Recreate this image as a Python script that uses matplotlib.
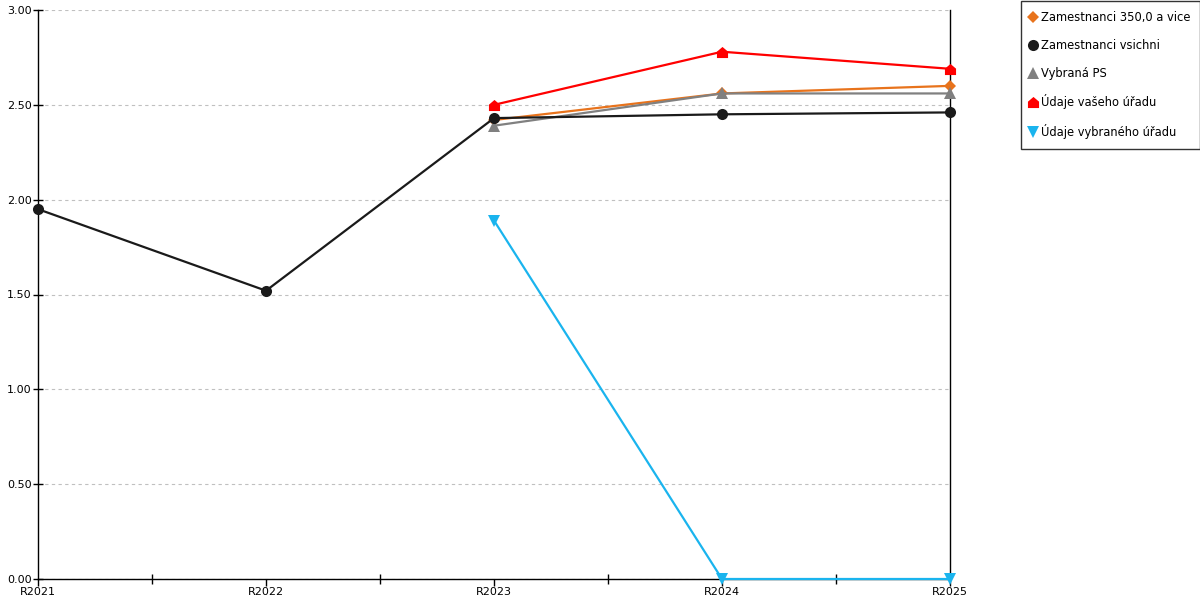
import numpy as np
import matplotlib
matplotlib.use('Agg')
import matplotlib.pyplot as plt
from matplotlib.path import Path

years = ['R2021', 'R2022', 'R2023', 'R2024', 'R2025']

zam_350 = [None, None, 2.42, 2.56, 2.60]
zam_all = [1.95, 1.52, 2.43, 2.45, 2.46]
vybrana_ps = [None, None, 2.39, 2.56, 2.56]
vas_urad = [None, None, 2.50, 2.78, 2.69]
vybrany_urad = [None, None, 1.89, 0.0, 0.0]

y_ticks = [0.0, 0.5, 1.0, 1.5, 2.0, 2.5, 3.0]

# red marker looks like a little house
house = Path([(-1, -1), (1, -1), (1, 0.15), (0, 1), (-1, 0.15), (-1, -1)],
             [Path.MOVETO, Path.LINETO, Path.LINETO, Path.LINETO, Path.LINETO, Path.CLOSEPOLY])

plt.rcParams['font.family'] = ['DejaVu Sans']

fig = plt.figure(figsize=(12, 6), dpi=100)
ax = fig.add_axes([38/1200, 21/600, 912/1200, 569/600])

x = np.arange(len(years))

def arr(v):
    return np.array([np.nan if a is None else a for a in v], dtype=float)

series = [
    (zam_350, 'Zamestnanci 350,0 a vice', '#e8731c', 'D', 6.5),
    (vybrana_ps, 'Vybraná PS', '#808080', '^', 8),
    (zam_all, 'Zamestnanci vsichni', '#1a1a1a', 'o', 8),
    (vas_urad, 'Údaje vašeho úřadu', '#ff0000', house, 8),
    (vybrany_urad, 'Údaje vybraného úřadu', '#1ab4ee', 'v', 8),
]

handles = {}
for vals, label, col, mk, ms in series:
    h, = ax.plot(x, arr(vals), color=col, lw=1.6, marker=mk, markersize=ms,
                 markeredgewidth=0, label=label, clip_on=False, zorder=3)
    handles[label] = h

ax.set_xlim(0, 4)
ax.set_ylim(0, 3)
ax.set_xticks(x)
ax.set_xticklabels(years)
ax.set_xticks(x[:-1] + 0.5, minor=True)
ax.set_yticks(y_ticks)
ax.set_yticklabels(['%.2f' % v for v in y_ticks])
ax.tick_params(axis='both', which='both', direction='inout', length=7, width=1,
               labelsize=8, colors='black', pad=1)
ax.tick_params(axis='x', which='major', direction='out', length=5)
ax.grid(axis='y', color='#c0c0c0', linestyle=(0, (3, 3)), lw=0.8)
ax.set_axisbelow(True)
ax.spines['top'].set_visible(False)
for s in ['left', 'bottom', 'right']:
    ax.spines[s].set_color('black')
    ax.spines[s].set_linewidth(1)

order = ['Zamestnanci 350,0 a vice', 'Zamestnanci vsichni', 'Vybraná PS',
         'Údaje vašeho úřadu', 'Údaje vybraného úřadu']
leg_handles = []
for lab in order:
    h = handles[lab]
    leg_handles.append(plt.Line2D([], [], linestyle='none', marker=h.get_marker(),
                                  color=h.get_color(), markersize=h.get_markersize(),
                                  markeredgewidth=0))
leg = fig.legend(leg_handles, order, loc='upper left', bbox_to_anchor=(1021/1200, 1 - 1/600),
                 frameon=True, fancybox=False, edgecolor='black', fontsize=8.3,
                 handlelength=0.2, handletextpad=0.6,
                 labelspacing=1.27, borderpad=0.9, borderaxespad=0)
leg.get_frame().set_linewidth(1)

fig.savefig('out.png', dpi=100)
